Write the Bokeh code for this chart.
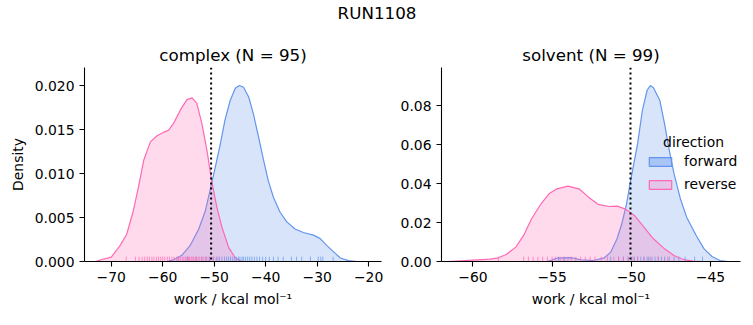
from bokeh.plotting import figure
from bokeh.models import Range1d, FixedTicker, Span, Label, Legend, LegendItem, ColumnDataSource
from bokeh.layouts import column, row
from bokeh.embed import file_html
from bokeh.resources import INLINE

# ---------------- data ----------------
suptitle = "RUN1108"
panel_titles = ["complex (N = 95)", "solvent (N = 99)"]
x_label = "work / kcal mol\u207b\u00b9"
y_label = "Density"
legend_title = "direction"
directions = ["forward", "reverse"]

# complex: KDE curves
cx_fwd_x = [-59.2, -57.9, -56.3, -54.7, -53.0, -51.7, -50.8, -49.8, -48.8, -47.9, -46.9, -45.9, -45.1, -44.3,
            -43.3, -42.4, -41.4, -40.4, -39.5, -38.5, -37.2, -35.9, -34.3, -32.7, -30.7, -29.4, -28.1, -26.8,
            -25.5, -23.9, -22.3]
cx_fwd_y = [0.0, 0.0002, 0.0007, 0.0018, 0.0037, 0.0058, 0.0081, 0.0107, 0.0134, 0.0161, 0.0183, 0.0197, 0.0200,
            0.0198, 0.0187, 0.0168, 0.0142, 0.0115, 0.0092, 0.0073, 0.0056, 0.0045, 0.0037, 0.0033, 0.0030, 0.0026,
            0.0018, 0.0011, 0.0004, 0.0001, 0.0]
cx_rev_x = [-73.1, -72.0, -70.0, -68.3, -67.0, -65.7, -64.7, -63.7, -62.4, -61.1, -59.8, -58.9, -57.9, -56.6,
            -55.3, -54.3, -53.4, -52.4, -51.4, -50.5, -49.5, -48.5, -47.2, -45.9, -44.6]
cx_rev_y = [0.0, 0.0002, 0.0005, 0.0018, 0.0031, 0.0058, 0.0085, 0.0115, 0.0136, 0.0143, 0.0147, 0.0149, 0.0157,
            0.0172, 0.0184, 0.0186, 0.0180, 0.0157, 0.0126, 0.0092, 0.0062, 0.0039, 0.0016, 0.0004, 0.0]

# solvent: KDE curves
sv_fwd_x = [-55.3, -54.7, -53.8, -53.2, -52.4, -51.7, -51.3, -50.9, -50.6, -50.3, -50.0, -49.6, -49.3, -49.0,
            -48.8, -48.6, -48.2, -47.9, -47.6, -47.3, -46.9, -46.5, -45.9, -45.4, -44.9, -44.4, -43.9]
sv_fwd_y = [0.0, 0.0017, 0.0020, 0.0009, 0.0005, 0.0019, 0.0048, 0.0117, 0.0194, 0.0297, 0.0434, 0.0606, 0.0778,
            0.0881, 0.0905, 0.0894, 0.0829, 0.0709, 0.0572, 0.0452, 0.0323, 0.0228, 0.0134, 0.0065, 0.0026,
            0.0005, 0.0]
sv_rev_x = [-61.6, -60.0, -58.9, -58.4, -57.9, -57.3, -56.8, -56.3, -55.7, -55.2, -54.7, -54.0, -53.3, -52.7,
            -52.1, -51.4, -50.9, -50.4, -49.8, -49.2, -48.6, -47.9, -47.3, -46.7, -46.1, -45.4]
sv_rev_y = [0.0, 0.0007, 0.0012, 0.0019, 0.0036, 0.0074, 0.0134, 0.0220, 0.0297, 0.0348, 0.0374, 0.0388, 0.0374,
            0.0331, 0.0294, 0.0283, 0.0285, 0.0271, 0.0237, 0.0177, 0.0117, 0.0065, 0.0031, 0.0010, 0.0002, 0.0]

# rug values (estimated)
cx_fwd_rug = [-57.0, -55.2, -53.5, -52.4, -51.6, -50.9, -50.2, -49.6, -49.0, -48.5, -48.0, -47.6, -47.2, -46.8,
              -46.4, -46.0, -45.7, -45.3, -45.0, -44.6, -44.3, -43.9, -43.5, -43.1, -42.7, -42.2, -41.7, -41.2,
              -40.6, -40.0, -39.3, -38.5, -37.6, -36.6, -35.0, -34.0, -33.0, -31.3, -29.8, -29.3, -28.9, -26.9]
cx_rev_rug = [-67.1, -65.3, -64.6, -64.0, -63.5, -63.0, -62.6, -62.1, -61.7, -61.2, -60.8, -60.4, -60.0, -59.6,
              -59.1, -58.7, -58.2, -57.8, -57.3, -56.9, -56.6, -56.2, -55.9, -55.6, -55.3, -55.0, -54.8, -54.5,
              -54.3, -54.0, -53.7, -53.4, -53.1, -52.8, -52.4, -52.0, -51.6, -51.2, -50.8, -50.1, -49.3]
sv_fwd_rug = [-54.6, -54.2, -51.3, -50.8, -50.5, -50.2, -50.0, -49.8, -49.6, -49.4, -49.2, -49.0, -48.9, -48.7,
              -48.5, -48.3, -48.1, -47.9, -47.6, -47.3, -47.0, -46.6, -46.0, -45.5]
sv_rev_rug = [-58.4, -56.8, -56.5, -56.2, -55.9, -55.6, -55.3, -55.0, -54.8, -54.5, -54.3, -54.0, -53.8, -53.5,
              -53.2, -52.9, -52.6, -52.3, -51.9, -51.5, -51.1, -50.8, -50.5, -50.2, -49.9, -49.6, -49.2, -48.8,
              -48.3, -47.7]

# vertical dotted reference lines
cx_ref = -50.6
sv_ref = -50.05

# axes
cx_xlim = (-75.2, -17.5)
cx_ylim = (0.0, 0.02205)
sv_xlim = (-61.99, -43.1)
sv_ylim = (0.0, 0.0998)
cx_xticks = [-70, -60, -50, -40, -30, -20]
cx_xtick_labels = ["\u221270", "\u221260", "\u221250", "\u221240", "\u221230", "\u221220"]
cx_yticks = [0.0, 0.005, 0.01, 0.015, 0.02]
cx_ytick_labels = ["0.000", "0.005", "0.010", "0.015", "0.020"]
sv_xticks = [-60, -55, -50, -45]
sv_xtick_labels = ["\u221260", "\u221255", "\u221250", "\u221245"]
sv_yticks = [0.0, 0.02, 0.04, 0.06, 0.08]
sv_ytick_labels = ["0.00", "0.02", "0.04", "0.06", "0.08"]

# ---------------- style ----------------
BLUE = "#6495ED"
PINK = "#FF69B4"
FONT = "DejaVu Sans"
TICK_FS = "13.9px"
TITLE_FS = "16.7px"
NAN = float("nan")


def style_axes(p, xticks, xlabels, yticks, ylabels, ylab):
    p.outline_line_color = None
    p.xgrid.grid_line_color = None
    p.ygrid.grid_line_color = None
    p.xaxis.ticker = FixedTicker(ticks=xticks)
    p.yaxis.ticker = FixedTicker(ticks=yticks)
    p.xaxis.major_label_overrides = {float(t): l for t, l in zip(xticks, xlabels)}
    p.yaxis.major_label_overrides = {float(t): l for t, l in zip(yticks, ylabels)}
    for ax in (p.xaxis[0], p.yaxis[0]):
        ax.axis_line_color = "black"
        ax.axis_line_width = 1.1
        ax.major_tick_line_color = "black"
        ax.major_tick_line_width = 1.1
        ax.major_tick_out = 5
        ax.major_tick_in = 0
        ax.minor_tick_line_color = None
        ax.major_label_text_font = FONT
        ax.major_label_text_font_size = TICK_FS
        ax.major_label_text_color = "black"
        ax.major_label_standoff = 5
        ax.axis_label_text_font = FONT
        ax.axis_label_text_font_size = TICK_FS
        ax.axis_label_text_font_style = "normal"
        ax.axis_label_text_color = "black"
        ax.axis_label_standoff = 6
    p.xaxis.axis_label = x_label
    if ylab:
        p.yaxis.axis_label = ylab
    p.title.text_font = FONT
    p.title.text_font_size = TITLE_FS
    p.title.text_font_style = "normal"
    p.title.text_color = "black"
    p.title.align = "center"
    p.title.standoff = 6


def draw_kde(p, x, y, color):
    p.varea(x=x, y1=[0.0] * len(x), y2=y, fill_color=color, fill_alpha=0.25)
    p.line(x=x, y=y, line_color=color, line_width=1.2)


def draw_rug(p, vals, color, ymax):
    h = 0.025 * ymax
    p.segment(x0=vals, y0=[0.0] * len(vals), x1=vals, y1=[h] * len(vals),
              line_color=color, line_alpha=0.7, line_width=1)


H = 295
left = figure(width=397, height=H, x_range=Range1d(*cx_xlim), y_range=Range1d(*cx_ylim),
              output_backend="svg", toolbar_location=None, title=panel_titles[0],
              min_border_left=84, min_border_right=16, min_border_top=37, min_border_bottom=64)
right = figure(width=356, height=H, x_range=Range1d(*sv_xlim), y_range=Range1d(*sv_ylim),
               output_backend="svg", toolbar_location=None, title=panel_titles[1],
               min_border_left=44, min_border_right=13, min_border_top=37, min_border_bottom=64)

style_axes(left, cx_xticks, cx_xtick_labels, cx_yticks, cx_ytick_labels, y_label)
style_axes(right, sv_xticks, sv_xtick_labels, sv_yticks, sv_ytick_labels, None)

draw_kde(left, cx_fwd_x, cx_fwd_y, BLUE)
draw_kde(left, cx_rev_x, cx_rev_y, PINK)
draw_rug(left, cx_fwd_rug, BLUE, cx_ylim[1])
draw_rug(left, cx_rev_rug, PINK, cx_ylim[1])

draw_kde(right, sv_fwd_x, sv_fwd_y, BLUE)
draw_kde(right, sv_rev_x, sv_rev_y, PINK)
draw_rug(right, sv_fwd_rug, BLUE, sv_ylim[1])
draw_rug(right, sv_rev_rug, PINK, sv_ylim[1])

for p, loc in ((left, cx_ref), (right, sv_ref)):
    p.add_layout(Span(location=loc, dimension="height", line_color="black",
                      line_width=2, line_dash="2 3"))

# legend: proxy renderers holding a single NaN row (never visible in the plot)
proxy = dict(left=[NAN], right=[NAN], top=[NAN], bottom=[NAN])
r_f = right.quad(source=ColumnDataSource(dict(proxy)), left="left", right="right", top="top", bottom="bottom",
                 fill_color=BLUE, fill_alpha=0.4, line_color=BLUE, line_width=1.2)
r_r = right.quad(source=ColumnDataSource(dict(proxy)), left="left", right="right", top="top", bottom="bottom",
                 fill_color=PINK, fill_alpha=0.25, line_color=PINK, line_width=1.2)
legend = Legend(items=[LegendItem(label=directions[0], renderers=[r_f]),
                       LegendItem(label=directions[1], renderers=[r_r])],
                location=(205, 69), orientation="vertical",
                glyph_width=28, glyph_height=11, label_standoff=10, label_height=14, spacing=7,
                padding=0, margin=0, border_line_color=None, background_fill_alpha=0,
                label_text_font=FONT, label_text_font_size=TICK_FS, label_text_color="black")
right.add_layout(legend)
right.add_layout(Label(x=252, y=120, x_units="screen", y_units="screen", text=legend_title,
                       text_font=FONT, text_font_size=TICK_FS, text_align="center",
                       text_baseline="middle", text_color="black"))

# suptitle strip
top = figure(width=753, height=30, x_range=Range1d(0, 1), y_range=Range1d(0, 1),
             output_backend="svg", toolbar_location=None, min_border=0,
             x_axis_location=None, y_axis_location=None)
top.outline_line_color = None
top.xgrid.grid_line_color = None
top.ygrid.grid_line_color = None
top.add_layout(Label(x=376.5, y=18, x_units="screen", y_units="screen", text=suptitle,
                     text_font=FONT, text_font_size=TITLE_FS, text_align="center",
                     text_baseline="middle", text_color="black"))

layout = column(top, row(left, right, spacing=0), spacing=0)
open("out.html", "w").write(file_html(layout, INLINE))
